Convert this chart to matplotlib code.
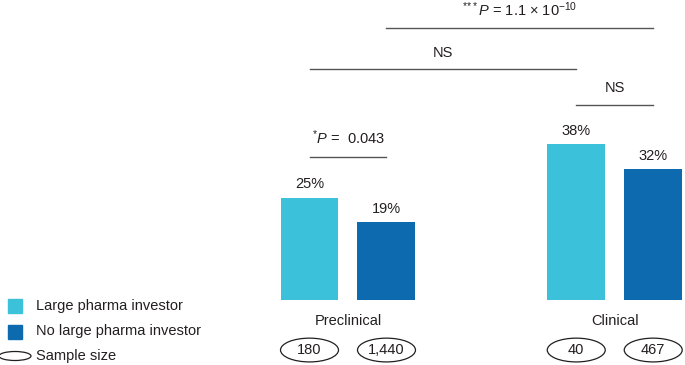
import matplotlib
matplotlib.use('Agg')
from matplotlib import pyplot as plt
from matplotlib.patches import Ellipse, Rectangle

plt.rcParams['font.family'] = ['Liberation Sans', 'DejaVu Sans']
plt.rcParams['mathtext.fontset'] = 'custom'
plt.rcParams['mathtext.rm'] = 'Liberation Sans'
plt.rcParams['mathtext.it'] = 'Liberation Sans:italic'

groups = ['Preclinical', 'Clinical']
series = ['Large pharma investor', 'No large pharma investor']
large = [25, 38]
no_large = [19, 32]
n_large = ['180', '40']
n_no = ['1,440', '467']
# (label, bar a, bar b, bracket height in %)
tests = [(r'$^{\it{*}}P$ =  0.043', 0, 1, 34.9),
         ('NS', 2, 3, 47.6),
         ('NS', 0, 2, 56.3),
         (r'$^{\it{*\!*\!*}}P$ = 1.1 × 10$^{-10}$', 1, 3, 66.3)]

c_light = '#3cc1da'
c_dark = '#0e6aae'
txt = '#231f20'
fs = 10.5

fig = plt.figure(figsize=(6.85, 3.65), dpi=100)
ax = fig.add_axes([0, 0, 1, 1])
ax.set_xlim(-1.3046, 1.2634)
ax.set_ylim(-15.85, 73.17)
ax.axis('off')

off, w = 0.1443, 0.2174
xs = [0, 1]
xl = [x - off for x in xs]
xd = [x + off for x in xs]
ax.bar(xl, large, w, color=c_light)
ax.bar(xd, no_large, w, color=c_dark)

for x, v in zip(xl + xd, large + no_large):
    ax.text(x, v + 1.5, f'{v}%', ha='center', va='bottom', fontsize=fs, color=txt)

for x, g in zip(xs, groups):
    ax.text(x, -5.1, g, ha='center', va='center', fontsize=fs, color=txt)

for x, n in zip(xl + xd, n_large + n_no):
    ax.add_patch(Ellipse((x, -12.2), w, 5.8, fill=False, lw=0.9, ec=txt))
    ax.text(x, -12.2, n, ha='center', va='center', fontsize=fs, color=txt)

pos = [xl[0], xd[0], xl[1], xd[1]]
for lab, a, b, h in tests:
    ax.plot([pos[a], pos[b]], [h, h], color='#555555', lw=1)
    ax.text((pos[a] + pos[b]) / 2, h + 2.3, lab, ha='center', va='bottom',
            fontsize=fs, color=txt)

# legend
for i, (s, c) in enumerate(zip(series, [c_light, c_dark])):
    yc = 1 - (306 + 25.5 * i) / 365
    ax.add_patch(Rectangle((8 / 685, yc - 7 / 365), 14 / 685, 14 / 365,
                           transform=ax.transAxes, color=c))
    ax.text(36 / 685, yc, s, transform=ax.transAxes, va='center', fontsize=fs, color=txt)
yc = 1 - 356 / 365
ax.add_patch(Ellipse((15 / 685, yc), 32 / 685, 9 / 365, transform=ax.transAxes,
                     fill=False, lw=0.9, ec=txt))
ax.text(36 / 685, yc, 'Sample size', transform=ax.transAxes, va='center', fontsize=fs, color=txt)

fig.savefig('out.png', dpi=100)
